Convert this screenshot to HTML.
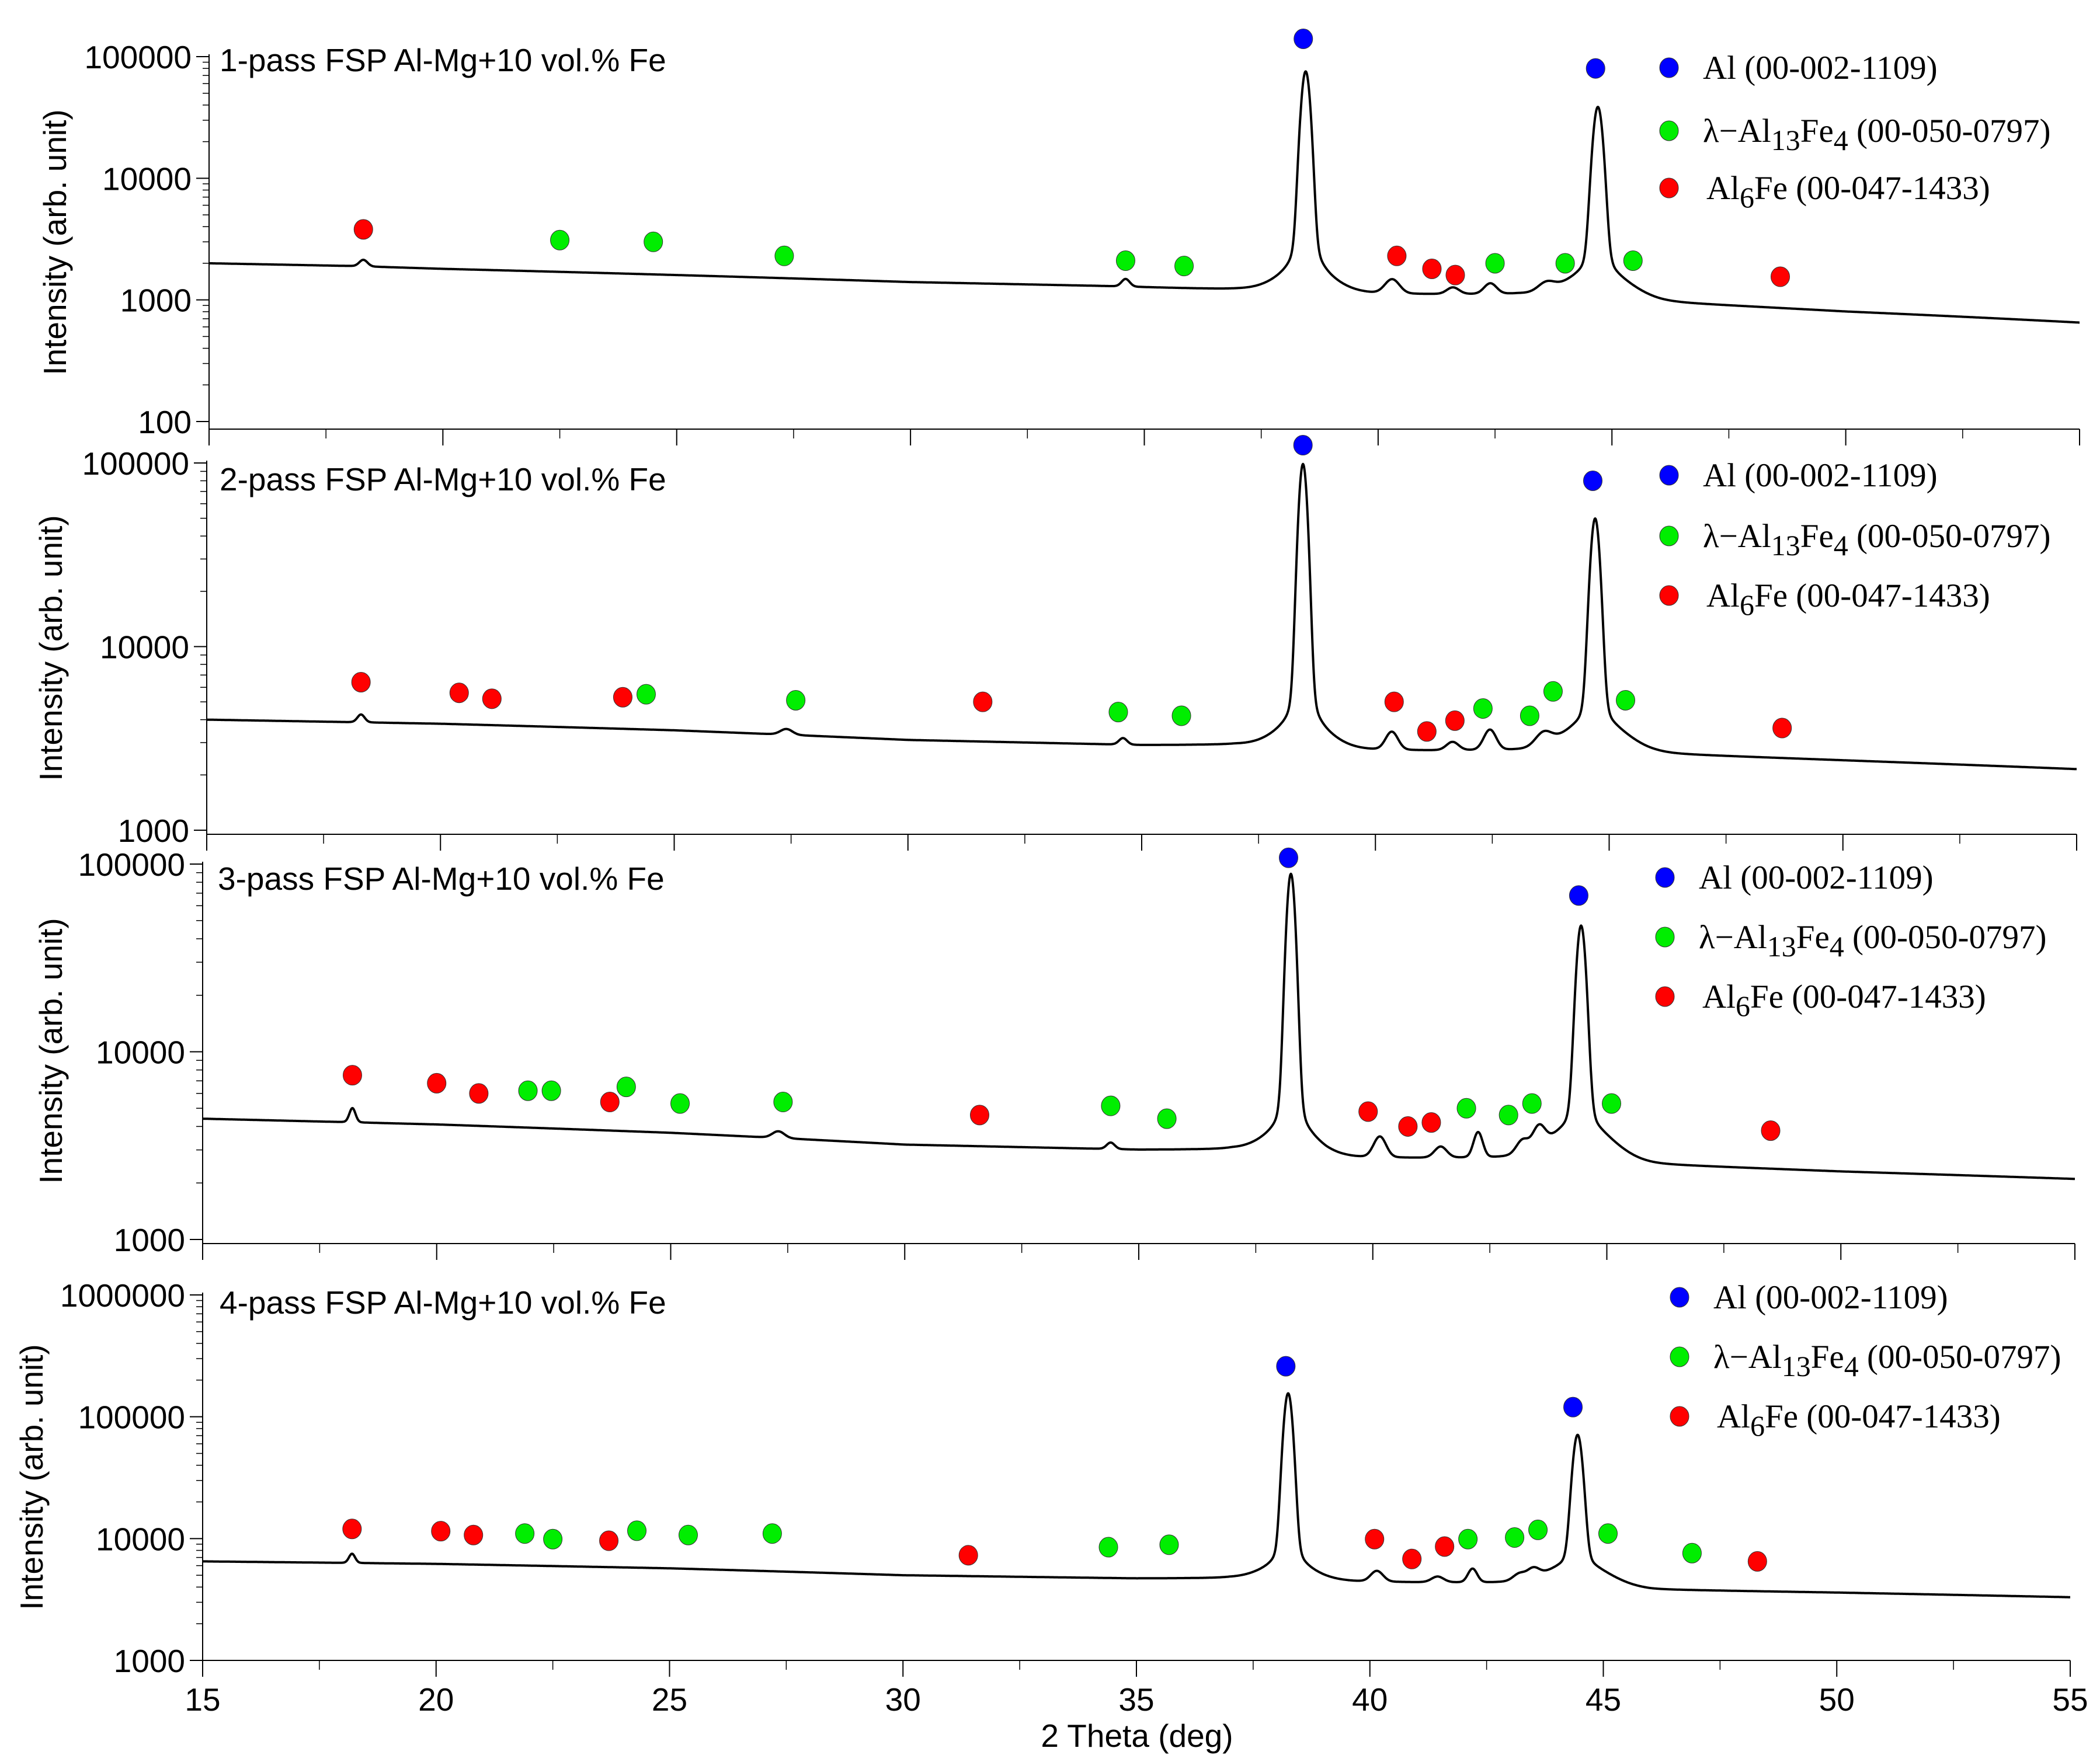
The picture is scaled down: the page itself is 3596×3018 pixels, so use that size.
<!DOCTYPE html>
<html><head><meta charset="utf-8"><style>
html,body{margin:0;padding:0;background:#fff}
svg{display:block}
.tk{font-family:"Liberation Sans",Arial,sans-serif;font-size:55px;fill:#000}
.lg{font-family:"Liberation Serif","Times New Roman",serif;font-size:57px;fill:#000}
</style></head><body>
<svg id="chart" width="3596" height="3018" viewBox="0 0 3596 3018" xmlns="http://www.w3.org/2000/svg"></svg>
<script>
const xTicks=[15,20,25,30,35,40,45,50,55];
const p1YTicks=[100,1000,10000,100000];
const p2YTicks=[1000,10000,100000];
const p3YTicks=[1000,10000,100000];
const p4YTicks=[1000,10000,100000,1000000];
const panelTitles=["1-pass FSP Al-Mg+10 vol.% Fe","2-pass FSP Al-Mg+10 vol.% Fe","3-pass FSP Al-Mg+10 vol.% Fe","4-pass FSP Al-Mg+10 vol.% Fe"];
// baselines [deg, intensity]
const p1Baseline=[[15,2000],[18,1900],[20,1800],[25,1600],[30,1400],[34,1300],[37,1200],[39,1100],[43,1100],[46,950],[50,800],[55,650]];
const p2Baseline=[[15,4000],[20,3800],[25,3500],[30,3100],[35,2900],[37,2900],[39,2700],[43,2700],[46,2600],[50,2400],[55,2150]];
const p3Baseline=[[15,4400],[20,4100],[25,3700],[30,3200],[35,3000],[37,3000],[39,2700],[43,2700],[46,2500],[50,2300],[55,2100]];
const p4Baseline=[[15,6500],[20,6200],[25,5700],[30,5000],[35,4700],[37,4700],[39,4400],[43,4300],[46,3800],[50,3600],[55,3300]];
// peaks [center deg, height, fwhm]
const p1Peaks=[[38.45,74000,0.2],[44.7,37000,0.22],[38.45,500,1.2],[44.7,600,1.4],[18.3,250,0.2],[34.6,200,0.2],[40.3,350,0.35],[41.6,150,0.3],[42.4,250,0.3],[43.6,200,0.4]];
const p2Peaks=[[38.45,95000,0.2],[44.7,46000,0.22],[38.45,900,1.2],[44.7,1200,1.4],[18.3,400,0.18],[27.4,250,0.3],[34.6,250,0.2],[40.35,700,0.3],[41.65,300,0.3],[42.45,800,0.3],[43.6,500,0.4]];
const p3Peaks=[[38.25,85000,0.2],[44.45,43000,0.22],[38.25,900,1.2],[44.45,1400,1.4],[18.2,800,0.15],[27.3,300,0.3],[34.4,250,0.2],[40.15,800,0.3],[41.45,400,0.3],[42.25,1000,0.22],[43.55,900,0.3],[43.2,500,0.3]];
const p4Peaks=[[38.25,150000,0.2],[44.45,65000,0.22],[38.25,1300,1.2],[44.45,2000,1.4],[18.2,1200,0.15],[40.15,1000,0.3],[41.45,500,0.3],[42.2,1300,0.22],[43.5,900,0.3],[43.2,600,0.3]];
// phase markers [deg, intensity]
const p1Blue=[[38.4,140000],[44.65,80000]];
const p1Green=[[22.5,3100],[24.5,3000],[27.3,2300],[34.6,2100],[35.85,1900],[42.5,2000],[44.0,2000],[45.45,2100]];
const p1Red=[[18.3,3800],[40.4,2300],[41.15,1800],[41.65,1600],[48.6,1550]];
const p2Blue=[[38.45,125000],[44.65,80000]];
const p2Green=[[24.4,5500],[27.6,5100],[34.5,4400],[35.85,4200],[42.3,4600],[43.3,4200],[43.8,5700],[45.35,5100]];
const p2Red=[[18.3,6400],[20.4,5600],[21.1,5200],[23.9,5300],[31.6,5000],[40.4,5000],[41.1,3450],[41.7,3950],[48.7,3600]];
const p3Blue=[[38.2,108000],[44.4,68000]];
const p3Green=[[21.95,6200],[22.45,6200],[24.05,6500],[25.2,5300],[27.4,5400],[34.4,5150],[35.6,4400],[42.0,5000],[42.9,4600],[43.4,5300],[45.1,5300]];
const p3Red=[[18.2,7500],[20.0,6800],[20.9,6000],[23.7,5400],[31.6,4600],[39.9,4800],[40.75,4000],[41.25,4200],[48.5,3800]];
const p4Blue=[[38.2,260000],[44.35,120000]];
const p4Green=[[21.9,11000],[22.5,9900],[24.3,11600],[25.4,10700],[27.2,11000],[34.4,8500],[35.7,8900],[42.1,9900],[43.1,10200],[43.6,11800],[45.1,11000],[46.9,7600]];
const p4Red=[[18.2,12000],[20.1,11500],[20.8,10700],[23.7,9600],[31.4,7300],[40.1,9900],[40.9,6800],[41.6,8600],[48.3,6500]];
const legendLabels=["Al (00-002-1109)","λ−Al13Fe4 (00-050-0797)","Al6Fe (00-047-1433)"];

const NS="http://www.w3.org/2000/svg";
const svg=document.getElementById('chart');
function mk(tag,attrs,parent){const e=document.createElementNS(NS,tag);for(const k in attrs)e.setAttribute(k,attrs[k]);(parent||svg).appendChild(e);return e;}

const layout=[
 {left:358,right:3561,yTopPx:97,yBotPx:722,axisY:735,yMin:100,yMax:100000,ticks:p1YTicks,base:p1Baseline,peaks:p1Peaks,blue:p1Blue,green:p1Green,red:p1Red,leg:[2858,116,224,322],title:[376,122],ylab:[95,415]},
 {left:354,right:3556,yTopPx:793,yBotPx:1422,axisY:1429,yMin:1000,yMax:100000,ticks:p2YTicks,base:p2Baseline,peaks:p2Peaks,blue:p2Blue,green:p2Green,red:p2Red,leg:[2858,814,918,1020],title:[376,840],ylab:[88,1110]},
 {left:347,right:3553,yTopPx:1480,yBotPx:2123,axisY:2130,yMin:1000,yMax:100000,ticks:p3YTicks,base:p3Baseline,peaks:p3Peaks,blue:p3Blue,green:p3Green,red:p3Red,leg:[2851,1503,1605,1707],title:[373,1524],ylab:[88,1800]},
 {left:347,right:3545,yTopPx:2218,yBotPx:2844,axisY:2844,yMin:1000,yMax:1000000,ticks:p4YTicks,base:p4Baseline,peaks:p4Peaks,blue:p4Blue,green:p4Green,red:p4Red,leg:[2876,2222,2324,2426],title:[376,2250],ylab:[55,2530]}
];

function baseAt(b,x){for(let i=0;i<b.length-1;i++){if(x>=b[i][0]&&x<=b[i+1][0]){const t=(x-b[i][0])/(b[i+1][0]-b[i][0]);return b[i][1]+t*(b[i+1][1]-b[i][1]);}}return b[b.length-1][1];}
function shape(x,c,f){const s=f/2.3548,hw=f/2,dx=x-c;return 0.9*Math.exp(-dx*dx/(2*s*s))+0.1*hw*hw/(dx*dx+hw*hw);}

layout.forEach((P,pi)=>{
  const g=mk('g',{});
  
  
  const xs=d=>P.left+(d-15)/(55-15)*(P.right-P.left);
  const lmin=Math.log10(P.yMin),lmax=Math.log10(P.yMax);
  const ys=v=>P.yBotPx-(Math.log10(v)-lmin)/(lmax-lmin)*(P.yBotPx-P.yTopPx);
  const ya=mk('line',{x1:P.left,y1:P.yTopPx-4,x2:P.left,y2:P.axisY,stroke:'#000','stroke-width':2},g);
  
  const xa=mk('line',{x1:P.left,y1:P.axisY,x2:P.right,y2:P.axisY,stroke:'#000','stroke-width':2},g);
  
  for(let e=lmin;e<=lmax;e++){
    const v=Math.pow(10,e),y=ys(v);
    mk('line',{x1:P.left-22,y1:y,x2:P.left,y2:y,stroke:'#000','stroke-width':2},g);
    const t=mk('text',{x:P.left-30,y:y+20,'text-anchor':'end',class:'tk'},g);
    t.textContent=String(Math.round(v));
    
    if(e<lmax)for(let m=2;m<=9;m++){const yy=ys(v*m);mk('line',{x1:P.left-11,y1:yy,x2:P.left,y2:yy,stroke:'#000','stroke-width':1.5},g);}
  }
  xTicks.forEach((d,i)=>{
    const x=xs(d);
    mk('line',{x1:x,y1:P.axisY,x2:x,y2:P.axisY+28,stroke:'#000','stroke-width':2},g);
    if(i<xTicks.length-1){const xm=xs(d+2.5);mk('line',{x1:xm,y1:P.axisY,x2:xm,y2:P.axisY+16,stroke:'#000','stroke-width':1.5},g);}
    if(pi===3){const t=mk('text',{x:x,y:2930,'text-anchor':'middle',class:'tk'},g);t.textContent=d;
      }
  });
  let d='';
  for(let k=0;k<=4000;k++){
    const x=15+k*0.01;let v=baseAt(P.base,x);
    P.peaks.forEach(p=>{v+=p[1]*shape(x,p[0],p[2]);});
    d+=(k?'L':'M')+xs(x).toFixed(1)+' '+Math.max(P.yTopPx-60,ys(v)).toFixed(1);
  }
  const path=mk('path',{d:d,fill:'none',stroke:'#000','stroke-width':4,'stroke-linejoin':'round'},g);
  
  [[P.blue,'#0000ff','al-marker'],[P.green,'#00ee00','al13fe4-marker'],[P.red,'#ff0000','al6fe-marker']].forEach(s=>{
    s[0].forEach(pt=>{const c=mk('ellipse',{cx:xs(pt[0]),cy:ys(pt[1]),rx:16,ry:17,fill:s[1],stroke:'#333','stroke-width':1},g);
      });
  });
  const tt=mk('text',{x:P.title[0],y:P.title[1],class:'tk','font-size':56},g);
  tt.textContent=panelTitles[pi];
  
  const yl=mk('text',{x:0,y:0,class:'tk','font-size':52,'text-anchor':'middle',transform:`translate(${P.ylab[0]+18},${P.ylab[1]}) rotate(-90)`},g);
  yl.textContent='Intensity (arb. unit)';
  
  const lx=P.leg[0];
  const cols=['#0000ff','#00ee00','#ff0000'];
  [0,1,2].forEach(i=>{
    const y=P.leg[1+i];
    const c=mk('ellipse',{cx:lx,cy:y,rx:16,ry:17,fill:cols[i],stroke:'#333','stroke-width':1},g);
    
    const t=mk('text',{x:lx+58+(i===2?6:0),y:y+19,class:'lg'},g);
    
    if(i===0){t.textContent=legendLabels[0];}
    else if(i===1){t.innerHTML='λ−Al<tspan dy="14" font-size="50">13</tspan><tspan dy="-14">Fe</tspan><tspan dy="14" font-size="50">4</tspan><tspan dy="-14"> (00-050-0797)</tspan>';}
    else{t.innerHTML='Al<tspan dy="14" font-size="50">6</tspan><tspan dy="-14">Fe (00-047-1433)</tspan>';}
  });
});
const xt=mk('text',{x:1947,y:2992,'text-anchor':'middle',class:'tk'});
xt.textContent='2 Theta (deg)';


</script>
</body></html>
